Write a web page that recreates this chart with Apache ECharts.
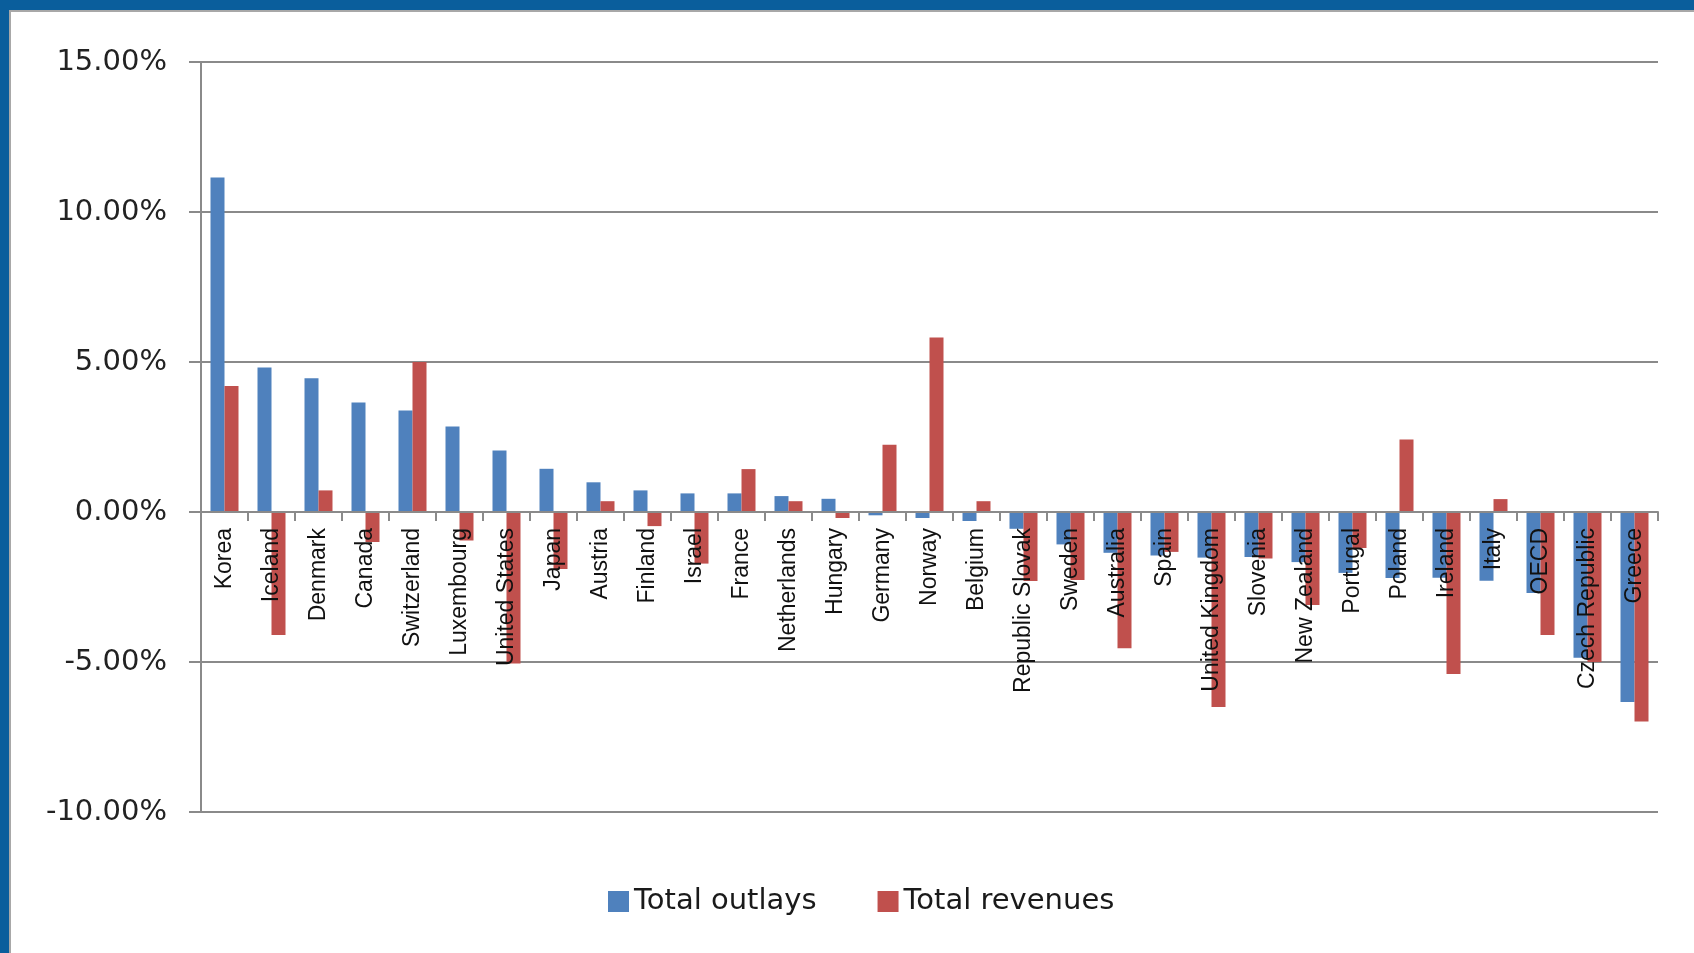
<!DOCTYPE html>
<html>
<head>
<meta charset="utf-8">
<title>Outlays and revenues</title>
<script src="https://cdn.jsdelivr.net/npm/echarts@6/dist/echarts.min.js"></script>
<style>
  html, body {
    margin: 0;
    padding: 0;
    width: 1694px;
    height: 953px;
    overflow: hidden;
    background: #0a5e9c;
  }
  #panel {
    position: absolute;
    left: 9px;
    top: 10px;
    width: 1700px;
    height: 960px;
    background: #fff;
    border-left: 2px solid #a8a8a8;
    border-top: 2px solid #a8a8a8;
  }
  #chart {
    position: absolute;
    left: 0;
    top: 0;
    width: 1694px;
    height: 953px;
  }
</style>
</head>
<body>
<div id="panel"></div>
<div id="chart"></div>
<script>
// country order as in the chart
const countries = [
  'Korea', 'Iceland', 'Denmark', 'Canada', 'Switzerland', 'Luxembourg',
  'United States', 'Japan', 'Austria', 'Finland', 'Israel', 'France',
  'Netherlands', 'Hungary', 'Germany', 'Norway', 'Belgium', 'Republic Slovak',
  'Sweden', 'Australia', 'Spain', 'United Kingdom', 'Slovenia', 'New Zealand',
  'Portugal', 'Poland', 'Ireland', 'Italy', 'OECD', 'Czech Republic', 'Greece',
];
// values in percent
const totalOutlays = [
  11.15, 4.82, 4.46, 3.65, 3.38, 2.85, 2.05, 1.44, 0.99, 0.72, 0.62, 0.62,
  0.53, 0.44, -0.11, -0.2, -0.3, -0.56, -1.08, -1.36, -1.45, -1.52, -1.5,
  -1.67, -2.03, -2.2, -2.19, -2.29, -2.7, -4.86, -6.33,
];
const totalRevenues = [
  4.2, -4.1, 0.72, -1.0, 5.0, -0.95, -5.05, -1.9, 0.36, -0.47, -1.72, 1.43,
  0.36, -0.2, 2.24, 5.82, 0.36, -2.3, -2.27, -4.54, -1.33, -6.5, -1.55,
  -3.1, -1.2, 2.42, -5.4, 0.43, -4.1, -5.0, -6.98,
];
const seriesNames = ['Total outlays', 'Total revenues'];
const yTicks = { min: -10, max: 15, step: 5 };

const chart = echarts.init(document.getElementById('chart'));
const gray = '#8a8a8a';

const gridTop = 62;
const gridBottom = 141;
const plotHeight = 953 - gridTop - gridBottom;
// category axis sits on the 0 line: lift it from the bottom edge
const zeroOffset = -plotHeight * (0 - yTicks.min) / (yTicks.max - yTicks.min);

const option = {
  animation: false,
  backgroundColor: 'transparent',
  grid: {
    left: 201,
    right: 36,
    top: gridTop,
    bottom: gridBottom,
    containLabel: false,
    outerBoundsMode: 'none',
  },
  legend: {
    data: seriesNames,
    left: 603,
    top: 882,
    itemWidth: 21,
    itemHeight: 21,
    itemGap: 61,
    icon: 'rect',
    textStyle: {
      fontFamily: 'DejaVu Sans',
      fontSize: 29,
      color: '#1a1a1a',
    },
  },
  xAxis: {
    type: 'category',
    data: countries,
    position: 'bottom',
    offset: zeroOffset,
    z: 10, // names are drawn over the bars, as in the original
    axisLine: {
      onZero: false,
      lineStyle: { color: gray, width: 2 },
    },
    axisTick: {
      show: true,
      length: 9,
      lineStyle: { color: gray, width: 2 },
    },
    axisLabel: {
      interval: 0,
      rotate: 90,
      margin: 16,
      fontFamily: 'Liberation Sans',
      fontSize: 23,
      color: '#111',
    },
  },
  yAxis: {
    type: 'value',
    min: yTicks.min,
    max: yTicks.max,
    interval: yTicks.step,
    axisLine: {
      show: true,
      lineStyle: { color: gray, width: 2 },
    },
    axisTick: {
      show: true,
      length: 12,
      lineStyle: { color: gray, width: 2 },
    },
    splitLine: {
      lineStyle: { color: gray, width: 2 },
    },
    axisLabel: {
      margin: 34,
      fontFamily: 'DejaVu Sans',
      fontSize: 29,
      color: '#222',
      formatter: (v) => v.toFixed(2) + '%',
    },
  },
  series: [
    {
      name: seriesNames[0],
      type: 'bar',
      data: totalOutlays,
      barWidth: 14,
      barGap: '0%',
      itemStyle: { color: '#4f81bd' },
    },
    {
      name: seriesNames[1],
      type: 'bar',
      data: totalRevenues,
      barWidth: 14,
      barGap: '0%',
      itemStyle: { color: '#c0504d' },
    },
  ],
};

chart.setOption(option);
</script>
</body>
</html>
